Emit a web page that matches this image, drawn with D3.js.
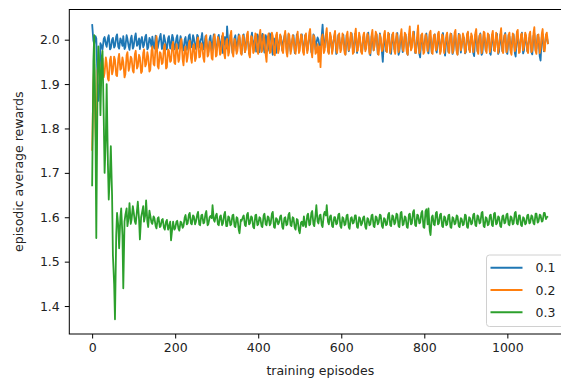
<!DOCTYPE html>
<html>
<head>
<meta charset="utf-8">
<script src="https://cdn.jsdelivr.net/npm/d3@7/dist/d3.min.js"></script>
<style>
  body { margin: 0; background: #fff; }
  svg { display: block; font-family: "DejaVu Sans", sans-serif; }
</style>
</head>
<body>
<svg id="chart" width="561" height="380"></svg>
<script>
// Dane: nagroda w epizodach 0, 5, 10, ... oraz 3, 8, 13, ...
const episodeStep = 5;
const midOffset = 3;

const reward01 = [
  2.035, 1.990, 2.003, 1.862, 1.992, 1.978, 2.006, 1.984, 2.010, 1.981,
  2.004, 1.986, 2.012, 1.980, 1.998, 2.008, 1.983, 2.002, 1.977, 2.009,
  1.985, 2.014, 1.990, 1.979, 2.006, 1.988, 2.011, 1.982, 1.999, 2.007,
  1.980, 2.003, 1.992, 2.013, 1.984, 2.001, 1.978, 2.008, 1.989, 2.004,
  1.982, 2.010, 1.987, 1.999, 1.976, 2.006, 1.990, 2.012, 1.983, 2.003,
  1.979, 2.008, 1.994, 2.015, 1.985, 2.000, 1.972, 2.009, 1.988, 2.005,
  1.981, 2.011, 1.990, 1.970, 2.006, 2.030, 1.984, 2.002, 1.975, 2.010,
  1.989, 2.004, 1.968, 2.012, 1.986, 2.001, 1.978, 2.016, 1.990, 1.973,
  2.007, 1.985, 2.013, 1.971, 2.002, 1.988, 2.009, 1.966, 1.995, 2.011,
  1.980, 2.005, 1.992, 2.014, 1.969, 2.000, 1.987, 2.010, 1.975, 2.006,
  1.990, 2.012, 1.972, 2.003, 1.985, 2.015, 1.968, 2.008, 1.993, 2.000,
  1.976, 2.034, 1.983, 2.009, 1.970, 2.004, 1.990, 2.013, 1.974, 2.006,
  1.988, 2.011, 1.967, 2.002, 1.984, 2.014, 1.972, 2.007, 1.991, 2.000,
  1.970, 2.010, 1.986, 2.016, 1.965, 2.004, 1.989, 2.012, 1.976, 2.001,
  1.950, 2.008, 1.985, 2.013, 1.968, 2.003, 1.990, 2.015, 1.973, 2.006,
  1.984, 2.011, 1.966, 2.004, 1.992, 2.018, 1.975, 2.007, 1.960, 2.002,
  1.987, 2.014, 1.969, 2.006, 1.983, 2.012, 1.971, 2.001, 1.990, 2.015,
  1.964, 2.008, 1.986, 2.013, 1.974, 2.003, 1.967, 2.010, 1.988, 2.005,
  1.972, 2.016, 1.985, 2.002, 1.963, 2.009, 1.990, 2.014, 1.970, 2.004,
  1.987, 2.011, 1.966, 2.006, 1.982, 2.013, 1.973, 2.001, 1.991, 2.015,
  1.968, 2.007, 1.985, 2.012, 1.962, 2.004, 1.989, 2.016, 1.975, 2.002,
  1.986, 2.010, 1.967, 2.014, 1.980, 2.005, 1.953, 2.012, 1.984, 2.008
];
const reward01Mid = [
  1.998, 2.008, 1.910, 1.900, 1.985, 2.002, 1.990, 2.004, 1.978, 2.000,
  1.982, 2.007, 1.984, 2.003, 1.986, 1.979, 2.010, 1.985, 2.002, 1.980,
  2.006, 1.986, 2.003, 2.000, 1.983, 2.007, 1.978, 2.004, 1.984, 1.986,
  2.009, 1.981, 2.006, 1.979, 2.010, 1.984, 2.003, 1.980, 2.011, 1.978,
  2.004, 1.980, 2.008, 1.983, 2.001, 1.977, 2.009, 1.986, 2.010, 1.984,
  2.011, 1.982, 2.004, 1.978, 2.008, 1.980, 2.002, 1.975, 2.012, 1.976,
  2.005, 1.978, 2.008, 1.992, 1.980, 1.990, 2.010, 1.970, 2.004, 1.974,
  2.012, 1.980, 2.006, 1.972, 2.009, 1.969, 2.004, 1.982, 2.008, 2.012,
  1.972, 2.006, 1.984, 2.010, 1.975, 2.014, 1.978, 2.003, 1.970, 1.985,
  2.010, 1.976, 2.007, 1.982, 2.012, 1.974, 2.004, 1.970, 2.012, 1.978,
  2.006, 1.980, 2.010, 1.975, 2.008, 1.972, 2.012, 1.978, 2.005, 1.982,
  2.010, 1.986, 2.012, 1.978, 2.009, 1.972, 2.006, 1.968, 2.011, 1.980,
  2.004, 1.976, 2.010, 1.974, 2.008, 1.980, 2.013, 1.970, 2.009, 1.975,
  2.005, 1.978, 2.011, 1.972, 2.008, 1.976, 2.010, 1.968, 2.014, 1.972,
  2.002, 1.974, 2.010, 1.970, 2.012, 1.978, 2.006, 1.966, 2.010, 1.972,
  2.008, 1.972, 2.012, 1.978, 2.010, 1.970, 2.004, 1.968, 2.011, 1.976,
  2.009, 1.975, 2.012, 1.970, 2.006, 1.977, 2.010, 1.973, 2.008, 1.978,
  2.004, 1.972, 2.011, 1.968, 2.009, 1.976, 2.013, 1.971, 2.006, 1.969,
  2.010, 1.978, 2.007, 1.970, 2.012, 1.974, 2.008, 1.966, 2.011, 1.975,
  2.006, 1.970, 2.010, 1.976, 2.008, 1.968, 2.012, 1.974, 2.009, 1.972,
  2.011, 1.975, 2.008, 1.970, 2.010, 1.978, 2.006, 1.969, 2.012, 1.974,
  2.004, 1.972, 2.009, 1.976, 2.011, 1.962, 2.006, 1.974, 2.010, 1.990
];

const reward02 = [
  1.750, 1.945, 1.740, 1.950, 1.915, 1.958, 1.925, 1.948, 1.908, 1.962,
  1.930, 1.955, 1.918, 1.968, 1.935, 1.950, 1.922, 1.972, 1.938, 1.958,
  1.926, 1.975, 1.940, 1.960, 1.928, 1.978, 1.945, 1.962, 1.932, 1.985,
  1.942, 2.008, 1.935, 1.970, 1.948, 1.990, 1.938, 1.975, 1.952, 1.995,
  1.945, 1.980, 1.956, 2.002, 1.942, 1.985, 1.960, 1.998, 1.948, 1.990,
  1.958, 2.005, 1.962, 1.988, 1.950, 2.010, 1.966, 1.992, 1.955, 2.012,
  1.965, 1.998, 1.970, 2.015, 1.958, 2.002, 1.972, 2.020, 1.962, 1.996,
  1.975, 2.010, 1.966, 2.004, 1.978, 2.018, 1.960, 2.006, 1.974, 2.012,
  1.968, 2.022, 1.976, 2.000, 1.950, 2.014, 1.972, 2.008, 1.965, 2.016,
  1.978, 2.004, 1.970, 2.020, 1.962, 2.010, 1.980, 2.002, 1.968, 2.018,
  1.975, 2.008, 1.966, 2.014, 1.980, 2.024, 1.960, 2.006, 1.972, 1.950,
  1.938, 2.012, 1.976, 2.026, 1.968, 2.008, 1.982, 2.020, 1.970, 2.014,
  1.978, 2.004, 1.966, 2.018, 1.982, 2.010, 1.972, 2.025, 1.976, 2.006,
  1.968, 2.016, 1.980, 2.008, 1.970, 2.022, 1.984, 2.012, 1.966, 2.004,
  1.978, 2.020, 1.972, 2.010, 1.984, 2.016, 1.968, 2.006, 1.980, 2.024,
  1.974, 2.012, 1.966, 2.030, 1.982, 2.008, 1.970, 2.032, 1.978, 2.014,
  1.972, 2.006, 1.984, 2.020, 1.968, 2.012, 1.980, 2.018, 1.974, 2.008,
  1.982, 2.016, 1.970, 2.010, 1.978, 2.022, 1.966, 2.012, 1.984, 2.006,
  1.976, 2.018, 1.972, 2.008, 1.986, 2.024, 1.968, 2.012, 1.980, 2.016,
  1.970, 2.010, 1.982, 2.020, 1.974, 2.008, 1.984, 2.026, 1.970, 2.012,
  1.978, 2.016, 1.966, 2.008, 1.980, 2.022, 1.972, 2.014, 1.984, 2.010,
  1.970, 2.018, 1.976, 2.028, 1.968, 2.012, 1.980, 2.024, 1.974, 2.016
];
const reward02Mid = [
  1.900, 1.800, 1.930, 1.925, 1.950, 1.915, 1.960, 1.912, 1.955, 1.922,
  1.962, 1.920, 1.958, 1.932, 1.960, 1.915, 1.965, 1.930, 1.962, 1.930,
  1.968, 1.935, 1.966, 1.925, 1.970, 1.940, 1.972, 1.928, 1.975, 1.945,
  1.985, 1.940, 1.972, 1.945, 1.982, 1.935, 1.978, 1.950, 1.988, 1.948,
  1.990, 1.950, 1.995, 1.955, 1.980, 1.950, 1.992, 1.958, 1.985, 1.952,
  1.998, 1.960, 1.992, 1.958, 2.000, 1.962, 1.996, 1.958, 2.004, 1.962,
  2.006, 1.966, 2.004, 1.968, 1.998, 1.964, 2.010, 1.970, 2.002, 1.968,
  2.006, 1.970, 2.010, 1.972, 2.012, 1.966, 2.008, 1.970, 2.014, 1.974,
  2.010, 1.972, 2.012, 1.966, 2.006, 1.970, 2.016, 1.968, 2.010, 1.970,
  2.012, 1.974, 2.008, 1.972, 2.014, 1.968, 2.010, 1.976, 2.006, 1.970,
  2.012, 1.972, 2.008, 1.970, 2.016, 1.974, 2.010, 1.968, 1.990, 1.985,
  2.004, 1.970, 2.012, 1.974, 2.016, 1.968, 2.010, 1.976, 2.008, 1.972,
  2.014, 1.970, 2.010, 1.976, 2.016, 1.968, 2.012, 1.974, 2.016, 1.972,
  2.010, 1.974, 2.014, 1.968, 2.010, 1.976, 2.018, 1.970, 2.012, 1.974,
  2.012, 1.976, 2.016, 1.970, 2.010, 1.974, 2.014, 1.972, 2.010, 1.978,
  2.016, 1.972, 2.012, 1.976, 2.018, 1.972, 2.014, 1.970, 2.010, 1.968,
  2.012, 1.974, 2.016, 1.972, 2.010, 1.976, 2.014, 1.968, 2.012, 1.970,
  2.010, 1.974, 2.014, 1.970, 2.016, 1.972, 2.010, 1.976, 2.014, 1.970,
  2.012, 1.978, 2.014, 1.972, 2.016, 1.974, 2.010, 1.970, 2.018, 1.976,
  2.014, 1.972, 2.012, 1.976, 2.016, 1.970, 2.012, 1.974, 2.010, 1.972,
  2.010, 1.972, 2.014, 1.974, 2.018, 1.970, 2.012, 1.976, 2.016, 1.974,
  2.012, 1.972, 2.016, 1.974, 2.010, 1.970, 2.014, 1.976, 2.012, 1.990
];

const reward03 = [
  1.670, 2.010, 1.553, 1.985, 1.830, 1.975, 1.700, 1.900, 1.640, 1.760,
  1.515, 1.370, 1.610, 1.530, 1.620, 1.440, 1.605, 1.580, 1.632, 1.595,
  1.612, 1.585, 1.635, 1.550, 1.610, 1.590, 1.638, 1.578, 1.604, 1.585,
  1.598, 1.575, 1.600, 1.580, 1.596, 1.572, 1.594, 1.578, 1.548, 1.590,
  1.575, 1.592, 1.570, 1.588, 1.580, 1.605, 1.586, 1.610, 1.584, 1.602,
  1.590, 1.612, 1.582, 1.606, 1.588, 1.614, 1.585, 1.603, 1.627, 1.590,
  1.608, 1.582, 1.604, 1.586, 1.612, 1.580, 1.600, 1.584, 1.606, 1.578,
  1.598, 1.564, 1.592, 1.604, 1.580, 1.610, 1.586, 1.600, 1.575, 1.606,
  1.584, 1.598, 1.578, 1.608, 1.582, 1.600, 1.586, 1.612, 1.576, 1.596,
  1.588, 1.604, 1.574, 1.600, 1.584, 1.610, 1.580, 1.598, 1.572, 1.594,
  1.564, 1.590, 1.602, 1.578, 1.608, 1.584, 1.614, 1.580, 1.627, 1.586,
  1.606, 1.578, 1.612, 1.627, 1.584, 1.604, 1.578, 1.600, 1.586, 1.608,
  1.576, 1.598, 1.584, 1.606, 1.574, 1.600, 1.588, 1.604, 1.576, 1.598,
  1.586, 1.602, 1.574, 1.596, 1.584, 1.606, 1.578, 1.600, 1.588, 1.604,
  1.576, 1.596, 1.584, 1.610, 1.580, 1.602, 1.588, 1.606, 1.578, 1.612,
  1.584, 1.600, 1.576, 1.608, 1.586, 1.616, 1.580, 1.604, 1.588, 1.614,
  1.576, 1.618, 1.620, 1.560, 1.604, 1.582, 1.612, 1.586, 1.608, 1.578,
  1.600, 1.584, 1.606, 1.576, 1.598, 1.586, 1.602, 1.578, 1.596, 1.584,
  1.604, 1.576, 1.598, 1.586, 1.608, 1.580, 1.602, 1.588, 1.612, 1.578,
  1.598, 1.584, 1.606, 1.580, 1.610, 1.586, 1.600, 1.578, 1.604, 1.588,
  1.608, 1.582, 1.600, 1.586, 1.612, 1.584, 1.604, 1.580, 1.598, 1.586,
  1.606, 1.588, 1.602, 1.584, 1.608, 1.590, 1.604, 1.592, 1.610, 1.600
];
const reward03Mid = [
  1.950, 1.800, 1.900, 1.930, 1.960, 1.820, 1.780, 1.720, 1.700, 1.650,
  1.450, 1.560, 1.580, 1.600, 1.560, 1.590, 1.620, 1.600, 1.585, 1.625,
  1.590, 1.615, 1.595, 1.600, 1.625, 1.605, 1.590, 1.615, 1.588, 1.602,
  1.580, 1.598, 1.578, 1.594, 1.576, 1.590, 1.572, 1.590, 1.575, 1.572,
  1.590, 1.574, 1.590, 1.576, 1.600, 1.584, 1.606, 1.586, 1.604, 1.584,
  1.606, 1.584, 1.604, 1.586, 1.608, 1.582, 1.600, 1.598, 1.594, 1.604,
  1.584, 1.602, 1.582, 1.606, 1.580, 1.602, 1.582, 1.604, 1.580, 1.600,
  1.572, 1.594, 1.600, 1.582, 1.606, 1.584, 1.602, 1.578, 1.604, 1.582,
  1.600, 1.580, 1.604, 1.584, 1.602, 1.582, 1.608, 1.578, 1.598, 1.584,
  1.602, 1.578, 1.598, 1.582, 1.606, 1.582, 1.600, 1.576, 1.596, 1.570,
  1.588, 1.580, 1.582, 1.604, 1.582, 1.610, 1.584, 1.606, 1.590, 1.604,
  1.582, 1.606, 1.604, 1.590, 1.602, 1.580, 1.600, 1.584, 1.606, 1.580,
  1.600, 1.582, 1.604, 1.578, 1.598, 1.586, 1.604, 1.578, 1.600, 1.582,
  1.600, 1.578, 1.598, 1.582, 1.604, 1.580, 1.602, 1.584, 1.606, 1.580,
  1.598, 1.582, 1.606, 1.582, 1.604, 1.584, 1.608, 1.580, 1.610, 1.582,
  1.602, 1.578, 1.606, 1.584, 1.612, 1.582, 1.606, 1.586, 1.610, 1.578,
  1.614, 1.584, 1.570, 1.600, 1.584, 1.610, 1.584, 1.606, 1.580, 1.602,
  1.582, 1.604, 1.578, 1.600, 1.584, 1.604, 1.580, 1.598, 1.582, 1.606,
  1.578, 1.600, 1.584, 1.606, 1.582, 1.604, 1.586, 1.610, 1.580, 1.600,
  1.582, 1.604, 1.582, 1.608, 1.584, 1.602, 1.580, 1.602, 1.586, 1.606,
  1.584, 1.602, 1.584, 1.610, 1.586, 1.604, 1.582, 1.600, 1.584, 1.604,
  1.586, 1.604, 1.586, 1.608, 1.588, 1.606, 1.590, 1.610, 1.596, 1.602
];

const seriesNames = ['0.1', '0.2', '0.3'];
const seriesColors = ['#1f77b4', '#ff7f0e', '#2ca02c'];
const xTicks = [0, 200, 400, 600, 800, 1000];
const yTicks = [1.4, 1.5, 1.6, 1.7, 1.8, 1.9, 2.0];

// Sklejenie punktów głównych i pośrednich w jedną serię
function mergePoints(main, mid) {
  const pts = [];
  main.forEach((v, i) => {
    pts.push({ x: i * episodeStep, y: v });
    pts.push({ x: i * episodeStep + midOffset, y: mid[i] });
  });
  return pts;
}

const series = [
  [reward01, reward01Mid],
  [reward02, reward02Mid],
  [reward03, reward03Mid]
].map((pair, k) => ({
  name: seriesNames[k],
  color: seriesColors[k],
  points: mergePoints(pair[0], pair[1])
}));

// Wymiary osi (prawa krawędź wychodzi poza obrazek)
const plotLeft = 69.3, plotRight = 571.3, plotTop = 9.5, plotBottom = 334;

const svg = d3.select('#chart');

const x = d3.scaleLinear().domain([-55, 1154]).range([plotLeft, plotRight]);
const y = d3.scaleLinear().domain([1.337, 2.068]).range([plotBottom, plotTop]);

// Linie
const line = d3.line()
  .x(d => x(d.x))
  .y(d => y(d.y));

const plot = svg.append('g');
plot.selectAll('path')
  .data(series)
  .enter().append('path')
  .attr('d', d => line(d.points))
  .attr('fill', 'none')
  .attr('stroke', d => d.color)
  .attr('stroke-width', 1.8)
  .attr('stroke-linejoin', 'round');

// Ramka
svg.append('rect')
  .attr('x', plotLeft)
  .attr('y', plotTop)
  .attr('width', plotRight - plotLeft)
  .attr('height', plotBottom - plotTop)
  .attr('fill', 'none')
  .attr('stroke', '#000')
  .attr('stroke-width', 1);

// Osie
const xAxis = d3.axisBottom(x).tickValues(xTicks).tickSize(4.5).tickPadding(4.5).tickFormat(d3.format('d'));
const yAxis = d3.axisLeft(y).tickValues(yTicks).tickSize(4.5).tickPadding(5).tickFormat(d3.format('.1f'));

const gx = svg.append('g')
  .attr('transform', 'translate(0,' + plotBottom + ')')
  .call(xAxis);
const gy = svg.append('g')
  .attr('transform', 'translate(' + plotLeft + ',0)')
  .call(yAxis);

[gx, gy].forEach(g => {
  g.select('.domain').remove();
  g.selectAll('line').attr('stroke', '#000');
  g.selectAll('text')
    .attr('fill', '#222')
    .style('font-size', '12.5px')
    .style('font-family', '"DejaVu Sans", sans-serif');
});

// Podpisy osi
svg.append('text')
  .attr('x', (plotLeft + plotRight) / 2)
  .attr('y', 375)
  .attr('text-anchor', 'middle')
  .attr('fill', '#222')
  .style('font-size', '12.5px')
  .text('training episodes');

svg.append('text')
  .attr('transform', 'translate(23,' + ((plotTop + plotBottom) / 2) + ') rotate(-90)')
  .attr('text-anchor', 'middle')
  .attr('fill', '#222')
  .style('font-size', '12.5px')
  .text('episodic average rewards');

// Legenda
const legend = svg.append('g').attr('transform', 'translate(486.5,255)');
legend.append('rect')
  .attr('width', 80)
  .attr('height', 71.5)
  .attr('rx', 3)
  .attr('fill', '#fff')
  .attr('fill-opacity', 0.8)
  .attr('stroke', '#d0d0d0')
  .attr('stroke-width', 1);

const items = legend.selectAll('g.item')
  .data(series)
  .enter().append('g')
  .attr('class', 'item')
  .attr('transform', (d, i) => 'translate(0,' + (12.7 + i * 22.3) + ')');

items.append('line')
  .attr('x1', 4)
  .attr('x2', 36)
  .attr('stroke', d => d.color)
  .attr('stroke-width', 1.9);

items.append('text')
  .attr('x', 49)
  .attr('dy', '0.36em')
  .attr('fill', '#222')
  .style('font-size', '12.5px')
  .text(d => d.name);
</script>
</body>
</html>
